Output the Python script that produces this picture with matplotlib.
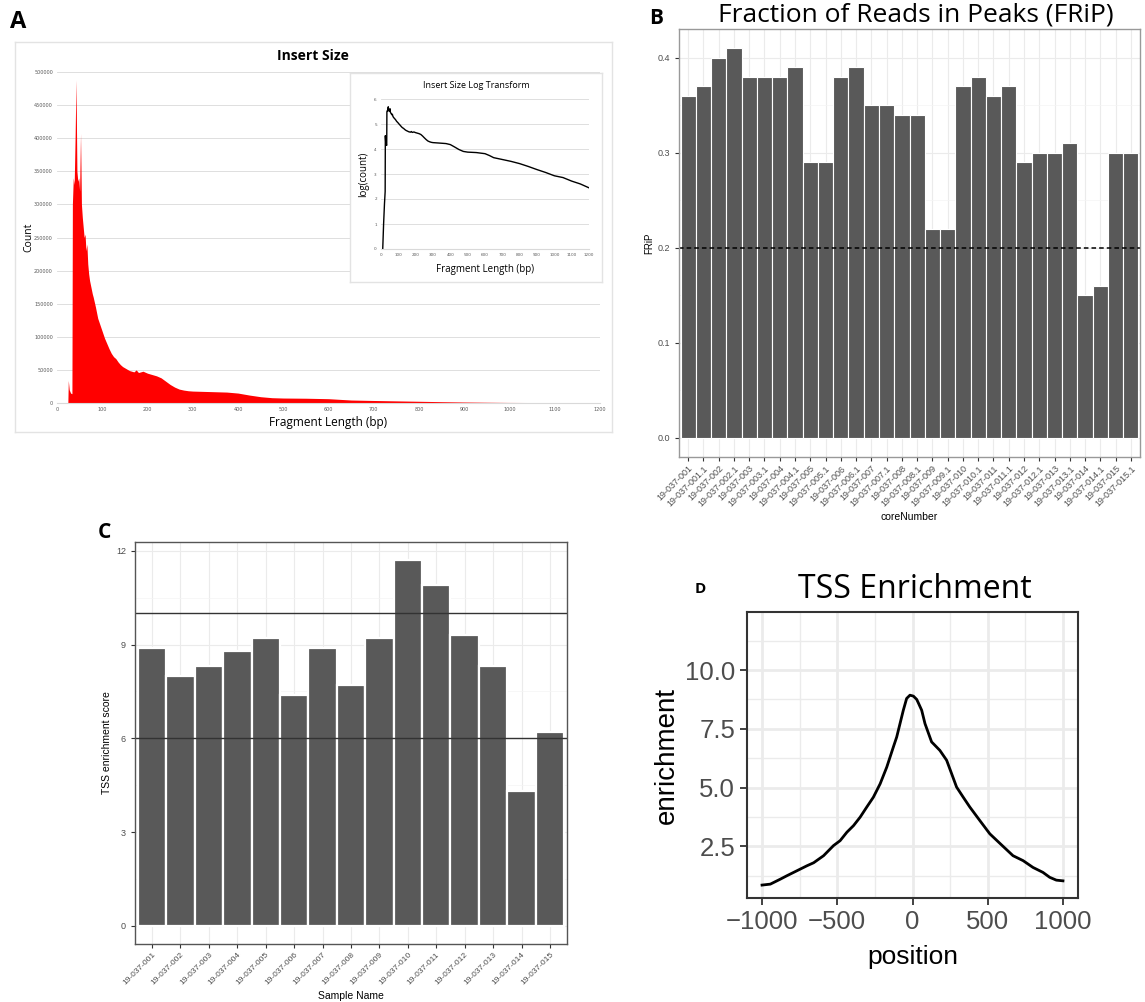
import numpy as np
import matplotlib.pyplot as plt

W, H = 1145, 1002

# ---- panel A: insert size histogram (count per fragment length) ----
frag_len = [10, 15, 20, 24, 25, 27, 30, 33, 34, 36, 38, 40, 42, 44, 46, 48, 50, 52,
            54, 56, 58, 60, 62, 64, 66, 68, 70, 72, 75, 78, 80, 85, 90, 95, 100,
            105, 110, 115, 120, 125, 130, 135, 140, 145, 150, 160, 170, 175, 180,
            190, 200, 210, 220, 230, 240, 250, 260, 270, 280, 290, 300, 325, 350,
            375, 400, 425, 450, 475, 500, 550, 600, 625, 650, 700, 750, 800, 850,
            900, 950, 1000, 1050, 1100, 1150, 1200]
count = [1, 10, 63, 200, 34000, 20000, 15000, 14000, 300000, 340000, 330000, 400000,
         488000, 350000, 335000, 340000, 320000, 407000, 300000, 280000, 265000,
         250000, 255000, 230000, 240000, 210000, 195000, 185000, 175000, 165000,
         160000, 145000, 128000, 118000, 108000, 98000, 90000, 82000, 75000, 70000,
         67000, 62000, 58000, 55000, 53000, 49000, 47000, 50000, 46000, 48000,
         45000, 43000, 41000, 38000, 33000, 28000, 24000, 21000, 19500, 18500,
         18000, 17500, 17000, 16500, 15000, 12000, 9500, 8000, 7500, 7200, 6500,
         5500, 4500, 3800, 3200, 2600, 2000, 1500, 1150, 850, 720, 520, 400, 280]

# ---- panel B: FRiP ----
core_number = ['19-037-001', '19-037-001.1', '19-037-002', '19-037-002.1',
               '19-037-003', '19-037-003.1', '19-037-004', '19-037-004.1',
               '19-037-005', '19-037-005.1', '19-037-006', '19-037-006.1',
               '19-037-007', '19-037-007.1', '19-037-008', '19-037-008.1',
               '19-037-009', '19-037-009.1', '19-037-010', '19-037-010.1',
               '19-037-011', '19-037-011.1', '19-037-012', '19-037-012.1',
               '19-037-013', '19-037-013.1', '19-037-014', '19-037-014.1',
               '19-037-015', '19-037-015.1']
frip = [0.36, 0.37, 0.40, 0.41, 0.38, 0.38, 0.38, 0.39, 0.29, 0.29,
        0.38, 0.39, 0.35, 0.35, 0.34, 0.34, 0.22, 0.22, 0.37, 0.38,
        0.36, 0.37, 0.29, 0.30, 0.30, 0.31, 0.15, 0.16, 0.30, 0.30]
frip_cutoff = 0.2

# ---- panel C: TSS enrichment score ----
sample_name = ['19-037-001', '19-037-002', '19-037-003', '19-037-004', '19-037-005',
               '19-037-006', '19-037-007', '19-037-008', '19-037-009', '19-037-010',
               '19-037-011', '19-037-012', '19-037-013', '19-037-014', '19-037-015']
tss_score = [8.9, 8.0, 8.3, 8.8, 9.2, 7.4, 8.9, 7.7, 9.2, 11.7, 10.9, 9.3, 8.3, 4.3, 6.2]
tss_lines = [6, 10]

# ---- panel D: TSS enrichment profile ----
position = [-1000, -945, -923, -879, -834, -768, -702, -657, -591, -525, -481, -436,
            -392, -348, -304, -260, -215, -171, -127, -105, -61, -39, -17, 6, 28, 39,
            61, 83, 127, 138, 182, 227, 260, 293, 337, 381, 447, 514, 580, 668, 735,
            801, 867, 912, 956, 1000]
enrichment = [0.85, 0.89, 0.96, 1.10, 1.25, 1.46, 1.67, 1.80, 2.10, 2.53, 2.74, 3.10,
              3.38, 3.74, 4.17, 4.59, 5.16, 5.87, 6.73, 7.15, 8.29, 8.79, 8.93, 8.89,
              8.75, 8.60, 8.29, 7.72, 6.94, 6.87, 6.58, 6.16, 5.59, 5.02, 4.59, 4.17,
              3.60, 3.03, 2.63, 2.10, 1.89, 1.60, 1.39, 1.18, 1.06, 1.03]

GG = 'Liberation Sans'
OS = 'Open Sans'


def px_axes(fig, l, t, r, b):
    return fig.add_axes([l / W, 1 - b / H, (r - l) / W, (b - t) / H])


def ftext(fig, x, y, s, **kw):
    fig.text(x / W, 1 - y / H, s, **kw)


def frame(fig, l, t, r, b, ec='#e3e3e3'):
    # white box with a thin border, drawn as an empty axes
    fa = px_axes(fig, l, t, r, b)
    fa.set_xticks([])
    fa.set_yticks([])
    fa.set_facecolor('white')
    for s in fa.spines.values():
        s.set_color(ec)
        s.set_linewidth(1)
    return fa


def excel_style(ax):
    ax.patch.set_alpha(0)
    for s in ax.spines.values():
        s.set_visible(False)
    ax.spines['bottom'].set_visible(True)
    ax.spines['bottom'].set_color('#d9d9d9')
    ax.grid(axis='y', color='#d9d9d9', lw=0.6)
    ax.set_axisbelow(True)
    ax.tick_params(length=0, labelsize=3.5, labelcolor='#595959', pad=3)


def gg_style(ax, border='#7f7f7f', lw=1.0):
    for s in ax.spines.values():
        s.set_color(border)
        s.set_linewidth(lw)
    ax.grid(which='major', color='#ebebeb', lw=0.8)
    ax.grid(which='minor', color='#f4f4f4', lw=0.5)
    ax.set_axisbelow(True)
    ax.tick_params(which='major', color='#333333', length=3, labelcolor='#4d4d4d')
    ax.tick_params(which='minor', length=0)


fig = plt.figure(figsize=(W / 100, H / 100), dpi=100)

# ================= A =================
frame(fig, 15, 42, 612, 432)
ax = px_axes(fig, 57, 72, 600, 403)
ax.fill_between(frag_len, count, color='#ff0000', lw=0)
ax.set_xlim(0, 1200)
ax.set_ylim(0, 500000)
ax.set_xticks(range(0, 1201, 100))
ax.set_yticks(range(0, 500001, 50000))
excel_style(ax)
ax.set_xlabel('Fragment Length (bp)', fontsize=8.5, family=OS, labelpad=3)
ax.set_ylabel('Count', fontsize=7.5, family=OS, labelpad=0)
ftext(fig, 313, 56, 'Insert Size', fontsize=10, family=OS, weight='bold',
      ha='center', va='center')

frame(fig, 350, 73, 602, 282)
axi = px_axes(fig, 381, 99, 589, 249)
axi.plot(frag_len, np.log10(count), color='black', lw=1)
axi.set_xlim(0, 1200)
axi.set_ylim(0, 6)
axi.set_xticks(range(0, 1201, 100))
axi.set_yticks(range(0, 7))
excel_style(axi)
axi.tick_params(labelsize=3)
axi.set_xlabel('Fragment Length (bp)', fontsize=7, family=OS, labelpad=5)
axi.set_ylabel('log(count)', fontsize=7, family=OS, labelpad=4)
ftext(fig, 476, 86, 'Insert Size Log Transform', fontsize=6.5, family=OS,
      ha='center', va='center')
ftext(fig, 18, 22, 'A', fontsize=17, family=OS, weight='bold', ha='center', va='center')

# ================= B =================
ax = px_axes(fig, 679, 29, 1140, 457)
xb = np.arange(len(core_number))
ax.bar(xb, frip, width=1.0, color='#595959', edgecolor='white', lw=0.8)
ax.axhline(frip_cutoff, color='black', ls=(0, (3, 2)), lw=1.1)
ax.set_xlim(-0.6, len(core_number) - 0.4)
ax.set_ylim(-0.0205, 0.4305)
ax.set_yticks([0.0, 0.1, 0.2, 0.3, 0.4])
ax.set_yticklabels(['0.0', '0.1', '0.2', '0.3', '0.4'])
ax.set_yticks(np.arange(0.05, 0.45, 0.1), minor=True)
ax.set_xticks(xb)
ax.set_xticklabels(core_number, rotation=45, ha='right', rotation_mode='anchor')
gg_style(ax, border='#999999')
ax.tick_params(axis='y', labelsize=6.5)
ax.tick_params(axis='x', labelsize=6.5, pad=2)
ax.set_xlabel('coreNumber', fontsize=7.5, family=GG, labelpad=3)
ax.set_ylabel('FRiP', fontsize=7, family=GG, labelpad=2)
for t in ax.get_xticklabels() + ax.get_yticklabels():
    t.set_family(GG)
ftext(fig, 916, 22, 'Fraction of Reads in Peaks (FRiP)', fontsize=19, family=OS,
      ha='center', va='baseline')
ftext(fig, 656, 19, 'B', fontsize=15, family=OS, weight='bold', ha='center', va='center')

# ================= C =================
ax = px_axes(fig, 135, 542, 567, 944)
xc = np.arange(len(sample_name))
ax.bar(xc, tss_score, width=1.0, color='#595959', edgecolor='white', lw=1.6)
for v in tss_lines:
    ax.axhline(v, color='#333333', lw=1)
ax.set_xlim(-0.6, len(sample_name) - 0.4)
ax.set_ylim(-0.585, 12.285)
ax.set_yticks([0, 3, 6, 9, 12])
ax.set_yticks([1.5, 4.5, 7.5, 10.5], minor=True)
ax.set_xticks(xc)
ax.set_xticklabels(sample_name, rotation=45, ha='right', rotation_mode='anchor')
gg_style(ax, border='#555555')
ax.tick_params(axis='y', labelsize=6.5)
ax.tick_params(axis='x', labelsize=6, pad=2)
ax.set_xlabel('Sample Name', fontsize=7.5, family=GG, labelpad=3)
ax.set_ylabel('TSS enrichment score', fontsize=7.5, family=GG, labelpad=3)
for t in ax.get_xticklabels() + ax.get_yticklabels():
    t.set_family(GG)
ftext(fig, 104, 532, 'C', fontsize=15, family=OS, weight='bold', ha='center', va='center')

# ================= D =================
ax = px_axes(fig, 747, 612, 1078, 898)
ax.plot(position, enrichment, color='black', lw=2)
ax.set_xlim(-1100, 1100)
ax.set_ylim(0.3, 12.47)
ax.set_xticks([-1000, -500, 0, 500, 1000])
ax.set_xticks([-750, -250, 250, 750], minor=True)
ax.set_yticks([2.5, 5.0, 7.5, 10.0])
ax.set_yticklabels(['2.5', '5.0', '7.5', '10.0'])
ax.set_yticks([1.25, 3.75, 6.25, 8.75, 11.25], minor=True)
for s in ax.spines.values():
    s.set_color('#333333')
    s.set_linewidth(1.5)
ax.grid(which='major', color='#ebebeb', lw=2)
ax.grid(which='minor', color='#ebebeb', lw=1)
ax.set_axisbelow(True)
ax.tick_params(which='major', color='#333333', length=5, width=1.3,
               labelcolor='#4d4d4d', labelsize=18.5)
ax.tick_params(which='minor', length=0)
for t in ax.get_xticklabels() + ax.get_yticklabels():
    t.set_family(GG)
ax.set_xlabel('position', fontsize=19, family=GG, labelpad=8)
ax.set_ylabel('enrichment', fontsize=20, family=GG, labelpad=4)
ftext(fig, 915, 589, 'TSS Enrichment', fontsize=23, family=OS, ha='center', va='center')
ftext(fig, 700, 589, 'D', fontsize=11, family=OS, weight='bold', ha='center', va='center')

fig.savefig('out.png', dpi=100, facecolor='white')
